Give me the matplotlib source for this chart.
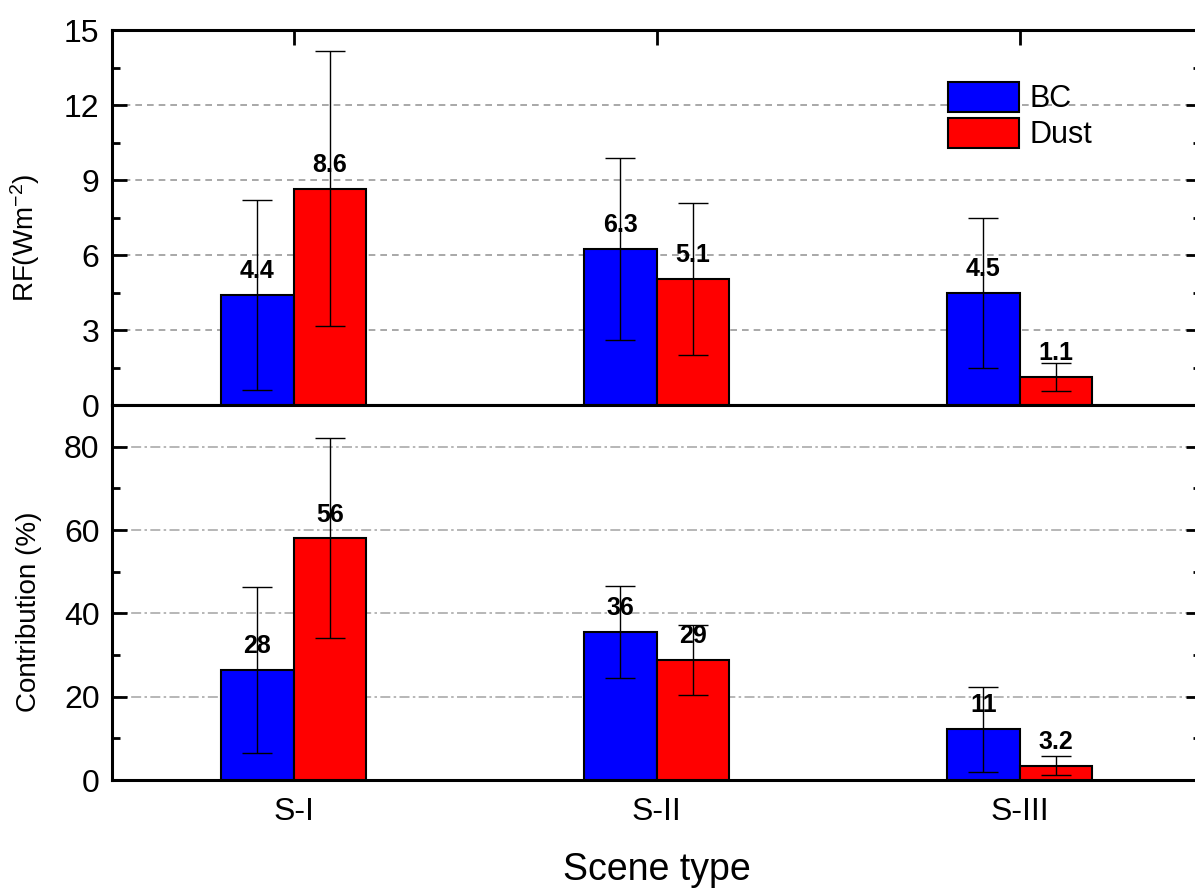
import numpy as np
import matplotlib
matplotlib.use("Agg")
import matplotlib.pyplot as plt
from matplotlib.ticker import MultipleLocator

plt.rcParams['font.family'] = ['Liberation Sans', 'DejaVu Sans']
plt.rcParams['mathtext.fontset'] = 'custom'
plt.rcParams['mathtext.rm'] = 'Liberation Sans'
plt.rcParams['mathtext.it'] = 'Liberation Sans:italic'

# data
scenes = ["S-I", "S-II", "S-III"]

rf_bc = [4.4, 6.25, 4.5]
rf_bc_err = [3.8, 3.65, 3.0]
rf_bc_lab = ["4.4", "6.3", "4.5"]
rf_dust = [8.65, 5.05, 1.12]
rf_dust_err = [5.5, 3.05, 0.55]
rf_dust_lab = ["8.6", "5.1", "1.1"]

con_bc = [26.4, 35.6, 12.2]
con_bc_err = [20.0, 11.0, 10.2]
con_bc_lab = ["28", "36", "11"]
con_dust = [58.0, 28.8, 3.4]
con_dust_err = [24.0, 8.5, 2.3]
con_dust_lab = ["56", "29", "3.2"]

BLUE = '#0000ff'
RED = '#ff0000'
x = np.arange(1, len(scenes) + 1)
w = 0.2

fig = plt.figure(figsize=(11.95, 8.91), dpi=100)
L, W = 112 / 1195, 1089 / 1195
ax1 = fig.add_axes([L, (891 - 405) / 891, W, 375 / 891])
ax2 = fig.add_axes([L, (891 - 780) / 891, W, 375 / 891])


def draw(ax, bc, bc_err, bc_lab, du, du_err, du_lab):
    ekw = dict(ecolor='black', elinewidth=1, capsize=11, capthick=1)
    b1 = ax.bar(x - w / 2, bc, w, color=BLUE, edgecolor='black', linewidth=1.5,
                yerr=bc_err, error_kw=ekw, label='BC', zorder=3)
    b2 = ax.bar(x + w / 2, du, w, color=RED, edgecolor='black', linewidth=1.5,
                yerr=du_err, error_kw=ekw, label='Dust', zorder=3)
    for xi, v, t in zip(x - w / 2, bc, bc_lab):
        ax.annotate(t, (xi, v), xytext=(0, 12), textcoords='offset points',
                    ha='center', va='baseline', fontsize=18, fontweight='bold', zorder=5)
    for xi, v, t in zip(x + w / 2, du, du_lab):
        ax.annotate(t, (xi, v), xytext=(0, 12), textcoords='offset points',
                    ha='center', va='baseline', fontsize=18, fontweight='bold', zorder=5)
    ax.set_xlim(0.5, 3.5)
    for s in ax.spines.values():
        s.set_linewidth(2.2)
    ax.tick_params(axis='y', which='both', direction='in', right=True,
                   labelsize=23, pad=9, width=2)
    ax.tick_params(axis='y', which='major', length=11)
    ax.tick_params(axis='y', which='minor', length=6)
    return b1, b2


draw(ax1, rf_bc, rf_bc_err, rf_bc_lab, rf_dust, rf_dust_err, rf_dust_lab)
draw(ax2, con_bc, con_bc_err, con_bc_lab, con_dust, con_dust_err, con_dust_lab)

# top panel
ax1.set_ylim(0, 15)
ax1.yaxis.set_major_locator(MultipleLocator(3))
ax1.yaxis.set_minor_locator(MultipleLocator(1.5))
for g in [3, 6, 9, 12]:
    ax1.axhline(g, color='#999999', lw=1.2, ls=(0, (4, 3)), zorder=1)
ax1.set_xticks(x)
ax1.tick_params(axis='x', which='both', direction='in', top=True, bottom=False,
                labelbottom=False, length=11, width=2)
ax1.set_ylabel('RF(Wm$^{-2}$)', fontsize=20)
ax1.yaxis.set_label_coords(-0.064, 0.445)
leg = ax1.legend(loc='upper left', bbox_to_anchor=(0.768, 0.862), frameon=False,
                 fontsize=22, handlelength=2.3, handleheight=1.15, labelspacing=0.12,
                 handletextpad=0.35, borderpad=0, borderaxespad=0)

# bottom panel
ax2.set_ylim(0, 90)
ax2.set_yticks([0, 20, 40, 60, 80])
ax2.yaxis.set_minor_locator(MultipleLocator(10))
for g in [20, 40, 60, 80]:
    ax2.axhline(g, color='#aaaaaa', lw=1.2, ls=(0, (6, 2, 1.5, 2)), zorder=1)
ax2.set_xticks(x)
ax2.set_xticklabels(scenes)
ax2.tick_params(axis='x', which='both', direction='in', top=False, bottom=True,
                length=11, width=2, labelsize=23, pad=12)
ax2.set_ylabel('Contribution (%)', fontsize=20)
ax2.yaxis.set_label_coords(-0.064, 0.448)
ax2.set_xlabel('Scene type', fontsize=27, labelpad=18)

fig.savefig('out.png', dpi=100)
